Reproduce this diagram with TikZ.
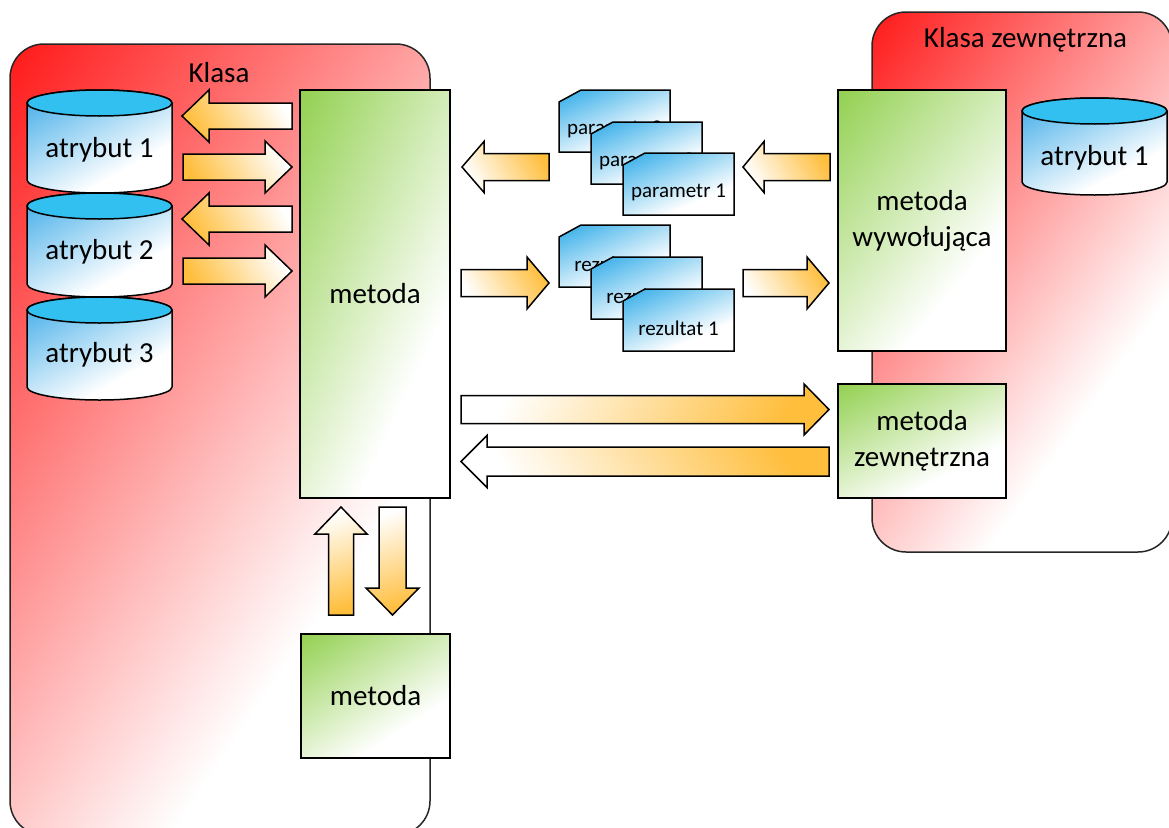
\documentclass[tikz,border=0pt]{standalone}
\usepackage{fontspec}
\setmainfont{Carlito}

\definecolor{cyltopcyan}{RGB}{50,192,240}
\definecolor{arroworange}{RGB}{255,190,60}

% diagonal fade: full colour in the top-left corner of the path's bounding box,
% white towards the bottom-right corner (the box maps to 25bp..75bp).
% arguments: name, 1-r, r, 1-g, g, 1-b, b
\newcommand\declarefade[7]{%
  \pgfdeclarefunctionalshading{#1}{\pgfpoint{0bp}{0bp}}{\pgfpoint{100bp}{100bp}}{}{
    75 exch sub 50 div 0.77 mul exch 25 sub 50 div 0.6 mul add
    dup 1 gt {pop 1} if dup 0 lt {pop 0} if
    dup dup #6 mul #7 add 3 1 roll #4 mul #5 add exch #2 mul #3 add 3 1 roll exch
  }}
\declarefade{klasafade}{0}{1}{0.902}{0.098}{0.902}{0.098}
\declarefade{methodfade}{0.427}{0.573}{0.184}{0.816}{0.686}{0.314}
\declarefade{docfade}{0.824}{0.176}{0.333}{0.667}{0.090}{0.910}
\declarefade{cylfade}{0.765}{0.235}{0.333}{0.667}{0.090}{0.910}

\newcommand\lblfont{\fontsize{29}{36}\selectfont}
\newcommand\docfont{\fontsize{21}{25}\selectfont}

% block arrow along x: style, x tail, x head base, x tip, y centre, shaft half, head half
\newcommand\harrow[7]{%
  \path[#1] (#2,#5-#6) -- (#3,#5-#6) -- (#3,#5-#7) -- (#4,#5)
    -- (#3,#5+#7) -- (#3,#5+#6) -- (#2,#5+#6) -- cycle;}
% block arrow along y: style, y tail, y head base, y tip, x centre, shaft half, head half
\newcommand\varrow[7]{%
  \path[#1] (#5-#6,#2) -- (#5-#6,#3) -- (#5-#7,#3) -- (#5,#4)
    -- (#5+#7,#3) -- (#5+#6,#3) -- (#5+#6,#2) -- cycle;}
% attribute cylinder: name, x centre, y top, y bottom, y of text, text
\newcommand\attrcyl[6]{%
  \path[cylbody] (#2-72.5,#3+13) -- (#2-72.5,#4-13)
    arc[start angle=180, end angle=360, x radius=72.5pt, y radius=13pt]
    -- (#2+72.5,#3+13)
    arc[start angle=0, end angle=180, x radius=72.5pt, y radius=13pt] -- cycle;
  \path[cyltop] (#2,#3+13) ellipse[x radius=72.5pt, y radius=13pt];
  \node[font=\lblfont] (#1) at (#2,#5) {#6};}
% sheet with a cut corner: name, x left, y top, text
\newcommand\docsheet[4]{%
  \path[docsheetstyle] (#2,#3+12) -- (#2+22,#3) -- (#2+111,#3)
    -- (#2+111,#3+62) -- (#2,#3+62) -- cycle;
  \node[font=\docfont] (#1) at (#2+55.5,#3+39) {#4};}

\begin{document}
\begin{tikzpicture}[x=1pt, y=-1pt,
  classbox/.style={draw=black!85, line width=1.5pt, rounded corners=34pt,
    shade, shading=klasafade},
  method/.style={draw=black, line width=1.5pt, shade, shading=methodfade,
    align=center, font=\lblfont, inner sep=0pt},
  docsheetstyle/.style={draw=black, line width=1.5pt, shade, shading=docfade},
  cylbody/.style={draw=black, line width=1.5pt, shade, shading=cylfade},
  cyltop/.style={draw=black, line width=1.5pt, fill=cyltopcyan},
  arrowfwd/.style={draw=black, line width=1.5pt, line join=miter,
    top color=white, bottom color=arroworange, shading angle=-60},
  arrowmid/.style={draw=black, line width=1.5pt, line join=miter,
    top color=arroworange, bottom color=white, shading angle=-60},
  arrowlong/.style={draw=black, line width=1.5pt, line join=miter,
    top color=white, bottom color=arroworange, shading angle=60},
  arrowvert/.style={draw=black, line width=1.5pt, line join=miter,
    top color=white, bottom color=arroworange, shading angle=20}]

\useasboundingbox (0,0) rectangle (1169,827);
\clip (0,0) rectangle (1169,827);

% class containers
\path[classbox] (10,44) rectangle (430,835);
\node[font=\lblfont] (klasa) at (219,73) {Klasa};
\path[classbox] (872,12) rectangle (1172,552);
\node[font=\lblfont] (klasazew) at (1025.5,40) {Klasa zewnętrzna};

% attributes <-> method
\harrow{arrowfwd}{292}{209}{182}{116}{13}{26}
\harrow{arrowfwd}{183}{265}{292}{167}{13}{26}
\harrow{arrowfwd}{292}{209}{182}{219}{13}{26}
\harrow{arrowfwd}{183}{265}{292}{271}{13}{26}

% parameters and results
\harrow{arrowmid}{549}{484}{462}{167}{13.5}{25.5}
\harrow{arrowmid}{830}{764}{743}{167}{13.5}{25.5}
\harrow{arrowmid}{461}{527}{549}{283}{13.5}{26}
\harrow{arrowmid}{743}{807}{829}{283}{13.5}{26}

% calls to the external method
\harrow{arrowlong}{461}{804}{829}{409.5}{14}{25.5}
\harrow{arrowmid}{829}{487}{461}{461.5}{14.5}{26}

% calls between methods of the class
\varrow{arrowvert}{615}{534}{507}{341}{12.5}{26}
\varrow{arrowvert}{507}{588}{615}{392.5}{13.5}{26.5}

% parameter sheets
\docsheet{par3}{559}{90}{parametr 3}
\docsheet{par2}{591}{122}{parametr 2}
\docsheet{par1}{623}{153}{parametr 1}
% result sheets
\docsheet{rez3}{559}{225}{rezultat 3}
\docsheet{rez2}{591}{257}{rezultat 2}
\docsheet{rez1}{623}{289}{rezultat 1}

% methods
\node[method, minimum width=150pt, minimum height=408pt] (metoda) at (375,294) {metoda};
\node[method, minimum width=149pt, minimum height=124pt] (metoda2) at (375.5,696) {metoda};
\node[method, minimum width=168pt, minimum height=261pt] (wywol) at (922,220.5) {metoda\\wywołująca};
\node[method, minimum width=168pt, minimum height=114pt] (zewn) at (922,441) {metoda\\zewnętrzna};

% attributes
\attrcyl{atr1}{99.5}{90}{193}{150}{atrybut 1}
\attrcyl{atr2}{99.5}{193}{297}{252}{atrybut 2}
\attrcyl{atr3}{99.5}{297}{400}{355}{atrybut 3}
\attrcyl{atrz1}{1094.5}{98}{195}{158}{atrybut 1}

\end{tikzpicture}
\end{document}
